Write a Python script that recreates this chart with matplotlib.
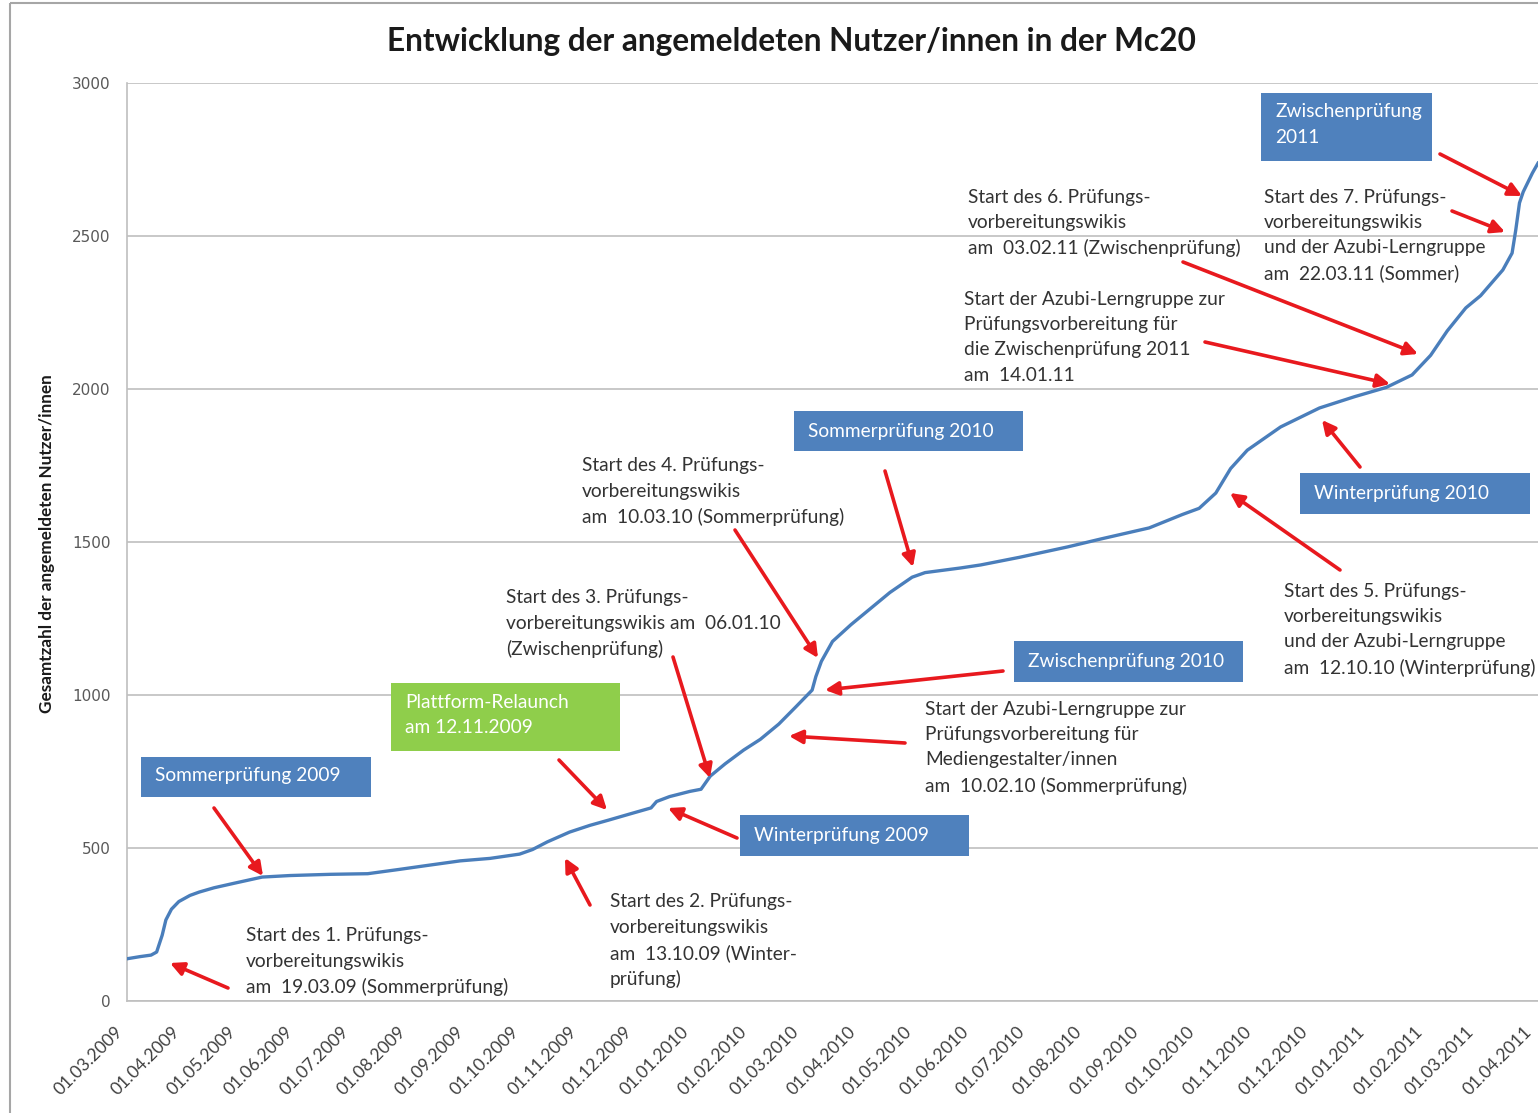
import matplotlib
matplotlib.use('Agg')
import matplotlib.pyplot as plt
from matplotlib.patches import Rectangle
from matplotlib.transforms import Affine2D, ScaledTranslation, blended_transform_factory
import pandas as pd

W, H = 1538, 1113
FONT = 'Lato'

# ---- data ----
dates = ['2009-03-01', '2009-03-08', '2009-03-14', '2009-03-17', '2009-03-20', '2009-03-22',
         '2009-03-25', '2009-03-29', '2009-04-04', '2009-04-09', '2009-04-17', '2009-04-28',
         '2009-05-13', '2009-05-28', '2009-06-19', '2009-07-09', '2009-07-26', '2009-08-09',
         '2009-08-28', '2009-09-13', '2009-09-29', '2009-10-06', '2009-10-14', '2009-10-26',
         '2009-11-06', '2009-11-16', '2009-11-28', '2009-12-09', '2009-12-12', '2009-12-19',
         '2009-12-30', '2010-01-05', '2010-01-10', '2010-01-18', '2010-01-28', '2010-02-06',
         '2010-02-16', '2010-02-25', '2010-03-06', '2010-03-08', '2010-03-11', '2010-03-17',
         '2010-03-27', '2010-04-06', '2010-04-17', '2010-04-29', '2010-05-06', '2010-05-25',
         '2010-06-05', '2010-06-26', '2010-07-22', '2010-08-09', '2010-09-04', '2010-09-22',
         '2010-10-01', '2010-10-10', '2010-10-18', '2010-10-27', '2010-11-14', '2010-12-05',
         '2010-12-24', '2011-01-10', '2011-01-24', '2011-02-03', '2011-02-12', '2011-02-22',
         '2011-03-02', '2011-03-14', '2011-03-19', '2011-03-21', '2011-03-23', '2011-03-25',
         '2011-03-30', '2011-04-02']
users = [138, 145, 150, 160, 215, 265,
         300, 325, 345, 356, 370, 385,
         405, 410, 414, 416, 430, 442,
         458, 466, 480, 495, 520, 552,
         574, 591, 612, 631, 652, 668,
         685, 692, 735, 775, 820, 855,
         905, 960, 1016, 1060, 1110, 1175,
         1230, 1280, 1335, 1385, 1400, 1415,
         1425, 1450, 1484, 1510, 1546, 1590,
         1610, 1660, 1740, 1800, 1876, 1938,
         1975, 2005, 2046, 2110, 2190, 2265,
         2305, 2389, 2444, 2520, 2608, 2644,
         2706, 2738]

tick_dates = pd.date_range('2009-03-01', '2011-04-01', freq='MS')
tick_labels = [d.strftime('%d.%m.%Y') for d in tick_dates]
y_ticks = [0, 500, 1000, 1500, 2000, 2500, 3000]

title = 'Entwicklung der angemeldeten Nutzer/innen in der Mc20'
y_label = 'Gesamtzahl der angemeldeten Nutzer/innen'

# ---- figure ----
fig = plt.figure(figsize=(W / 100, H / 100), dpi=100)
fig.patch.set_facecolor('white')
ax = fig.add_axes([127 / W, 1 - 1001 / H, (W - 127) / W, 918 / H])

x = pd.to_datetime(dates)
ax.plot(x, users, color='#4a7ebb', lw=2.4, solid_joinstyle='round', zorder=3)

ax.set_xlim(pd.Timestamp('2009-03-01'), pd.Timestamp('2011-04-02'))
ax.set_ylim(0, 3000)
ax.set_yticks(y_ticks)
ax.set_yticklabels([str(v) for v in y_ticks], fontsize=11, color='#595959', family='DejaVu Sans')
ax.set_xticks(tick_dates)
ax.set_xticklabels([])
ax.tick_params(axis='both', length=0)
ax.tick_params(axis='y', pad=12)
ax.grid(axis='y', color='#bfbfbf', lw=1.2)
ax.set_axisbelow(True)
for s in ['top', 'right']:
    ax.spines[s].set_visible(False)
for s in ['left', 'bottom']:
    ax.spines[s].set_color('#bfbfbf')
    ax.spines[s].set_linewidth(1.2)

# rotated date labels, placed at each tick date
lab_tr = blended_transform_factory(ax.transData, ax.transAxes) + \
    ScaledTranslation(-7 / 100, -28 / 100, fig.dpi_scale_trans)
for d, lbl in zip(tick_dates, tick_labels):
    ax.text(d, 0, lbl, transform=lab_tr, rotation=45, ha='right', va='center',
            rotation_mode='anchor', fontsize=12.6, color='#404040', family=FONT,
            clip_on=False)

# pixel transform (top-left origin)
tr = Affine2D().scale(1 / W, -1 / H).translate(0, 1) + fig.transFigure

fig.text(791 / W, 1 - 41 / H, title, ha='center', va='center', fontsize=22.8,
         fontweight='bold', family=FONT, color='#1a1a1a')
fig.text(47 / W, 1 - 544 / H, y_label, rotation=90, ha='center', va='center',
         fontsize=12.3, fontweight='bold', family=FONT, color='#1a1a1a')

# outer frame
fig.patches.append(Rectangle((10, 3), 1700, 1300, transform=tr, fill=False,
                             edgecolor='#a6a6a6', lw=1.5))

BLUE = '#4f81bd'
GREEN = '#8fce4b'
RED = '#e8191e'
TXT = '#333333'
FS = 13.8


def lines_at(x0, y0, text, color=TXT, fs=FS, dy=25.5, z=6):
    for i, line in enumerate(text.split('\n')):
        ax.text(x0, y0 + i * dy, line, transform=tr, ha='left', va='center',
                fontsize=fs, color=color, family=FONT, clip_on=False, zorder=z)


def box(x0, y0, x1, y1, text, ty, color=BLUE, tx=None):
    ax.add_patch(Rectangle((x0, y0), x1 - x0, y1 - y0, transform=tr, facecolor=color,
                           edgecolor='none', clip_on=False, zorder=5))
    lines_at(x0 + 14 if tx is None else tx, ty, text, color='white', z=6)


def arrow(tail, head):
    ax.annotate('', xy=head, xytext=tail, xycoords=tr, textcoords=tr,
                arrowprops=dict(arrowstyle='-|>', color=RED, lw=2.6, mutation_scale=20,
                                shrinkA=0, shrinkB=0),
                annotation_clip=False, zorder=4)


# boxes
box(141, 757, 371, 797, 'Sommerprüfung 2009', 776)
box(740, 815, 969, 856, 'Winterprüfung 2009', 835)
box(1014, 641, 1243, 682, 'Zwischenprüfung 2010', 661)
box(794, 411, 1023, 451, 'Sommerprüfung 2010', 431)
box(1300, 473, 1530, 514, 'Winterprüfung 2010', 493)
box(1261, 93, 1432, 161, 'Zwischenprüfung\n2011', 112)
box(391, 683, 620, 751, 'Plattform-Relaunch\nam 12.11.2009', 702, color=GREEN)

# plain annotation texts
lines_at(246, 936, 'Start des 1. Prüfungs-\nvorbereitungswikis\nam  19.03.09 (Sommerprüfung)')
lines_at(610, 902, 'Start des 2. Prüfungs-\nvorbereitungswikis\nam  13.10.09 (Winter-\nprüfung)')
lines_at(506, 598, 'Start des 3. Prüfungs-\nvorbereitungswikis am  06.01.10\n(Zwischenprüfung)')
lines_at(582, 466, 'Start des 4. Prüfungs-\nvorbereitungswikis\nam  10.03.10 (Sommerprüfung)')
lines_at(925, 709, 'Start der Azubi-Lerngruppe zur\nPrüfungsvorbereitung für\nMediengestalter/innen\nam  10.02.10 (Sommerprüfung)')
lines_at(1284, 591, 'Start des 5. Prüfungs-\nvorbereitungswikis\nund der Azubi-Lerngruppe\nam  12.10.10 (Winterprüfung)')
lines_at(964, 299, 'Start der Azubi-Lerngruppe zur\nPrüfungsvorbereitung für\ndie Zwischenprüfung 2011\nam  14.01.11')
lines_at(968, 197, 'Start des 6. Prüfungs-\nvorbereitungswikis\nam  03.02.11 (Zwischenprüfung)')
lines_at(1264, 197, 'Start des 7. Prüfungs-\nvorbereitungswikis\nund der Azubi-Lerngruppe\nam  22.03.11 (Sommer)')

# arrows
arrow((228, 988), (170, 963))
arrow((214, 808), (263, 876))
arrow((590, 905), (565, 858))
arrow((559, 760), (607, 810))
arrow((737, 838), (668, 808))
arrow((673, 657), (710, 778))
arrow((735, 530), (818, 658))
arrow((905, 743), (789, 736))
arrow((1003, 671), (825, 690))
arrow((885, 471), (913, 567))
arrow((1340, 570), (1230, 493))
arrow((1360, 467), (1322, 420))
arrow((1205, 342), (1390, 384))
arrow((1183, 262), (1418, 354))
arrow((1440, 154), (1522, 196))
arrow((1452, 211), (1505, 232))

fig.savefig('out.png', dpi=100)
